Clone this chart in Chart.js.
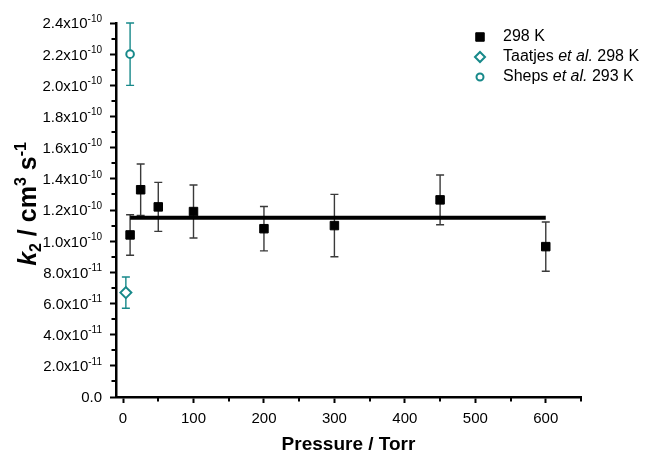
<!DOCTYPE html>
<html>
<head>
<meta charset="utf-8">
<script src="https://cdn.jsdelivr.net/npm/chart.js@4/dist/chart.umd.min.js"></script>
<style>
html,body{margin:0;padding:0;background:#fff;}
#wrap{width:649px;height:454px;}
</style>
</head>
<body>
<div id="wrap"><canvas id="c" width="649" height="454"></canvas></div>
<script>
// ---- data ----
const pressure298 = [10, 25, 50, 100, 200, 300, 450, 600];
const k298 = [1.04e-10, 1.33e-10, 1.22e-10, 1.19e-10, 1.08e-10, 1.10e-10, 1.265e-10, 0.965e-10];
const k298Err = [0.13e-10, 0.165e-10, 0.157e-10, 0.17e-10, 0.142e-10, 0.20e-10, 0.16e-10, 0.158e-10];
const taatjesPressure = [4];
const taatjesK = [6.7e-11];
const taatjesErr = [1.0e-11];
const shepsPressure = [10];
const shepsK = [2.2e-10];
const shepsErr = [0.2e-10];
const fitPressure = [10, 600];
const fitK = [1.15e-10, 1.15e-10];
const seriesLabels = ['298 K', 'Taatjes et al. 298 K', 'Sheps et al. 293 K'];
const xTitle = 'Pressure / Torr';
const xMajorTicks = [0, 100, 200, 300, 400, 500, 600];
const xMinorTicks = [50, 150, 250, 350, 450, 550, 650];
const yMajorTicks = [0, 2.0e-11, 4.0e-11, 6.0e-11, 8.0e-11, 1.0e-10, 1.2e-10, 1.4e-10, 1.6e-10, 1.8e-10, 2.0e-10, 2.2e-10, 2.4e-10];
const yMinorTicks = [1e-11, 3e-11, 5e-11, 7e-11, 9e-11, 1.1e-10, 1.3e-10, 1.5e-10, 1.7e-10, 1.9e-10, 2.1e-10, 2.3e-10];

const FONT = '"Liberation Sans", Arial, Helvetica, sans-serif';
const TEAL = '#17898a';

function pts(xs, ys) { return xs.map((x, i) => ({x: x, y: ys[i]})); }

// error bars drawn beneath markers
const errorBarPlugin = {
  id: 'errorBars',
  beforeDatasetsDraw(chart) {
    const ctx = chart.ctx;
    const xs = chart.scales.x, ys = chart.scales.y;
    chart.data.datasets.forEach((ds) => {
      if (!ds.errors) return;
      ctx.save();
      ctx.strokeStyle = ds.errColor;
      ctx.lineWidth = 1.4;
      ds.data.forEach((p, i) => {
        const e = ds.errors[i];
        const px = xs.getPixelForValue(p.x);
        const yt = ys.getPixelForValue(p.y + e);
        const yb = ys.getPixelForValue(p.y - e);
        ctx.beginPath();
        ctx.moveTo(px, yt); ctx.lineTo(px, yb);
        ctx.moveTo(px - 4, yt); ctx.lineTo(px + 4, yt);
        ctx.moveTo(px - 4, yb); ctx.lineTo(px + 4, yb);
        ctx.stroke();
      });
      ctx.restore();
    });
  }
};

function drawMarker(ctx, style, x, y, r, fill, stroke, lw) {
  ctx.save();
  ctx.beginPath();
  if (style === 'rect') {
    const s = r * Math.SQRT1_2;
    ctx.rect(x - s, y - s, 2 * s, 2 * s);
  } else if (style === 'rectRot') {
    ctx.moveTo(x - r, y); ctx.lineTo(x, y - r); ctx.lineTo(x + r, y); ctx.lineTo(x, y + r); ctx.closePath();
  } else {
    ctx.arc(x, y, r, 0, Math.PI * 2);
  }
  ctx.fillStyle = fill; ctx.fill();
  ctx.lineWidth = lw; ctx.strokeStyle = stroke; ctx.stroke();
  ctx.restore();
}

const decorPlugin = {
  id: 'decor',
  afterDraw(chart) {
    const ctx = chart.ctx;
    const xs = chart.scales.x, ys = chart.scales.y;
    const ca = chart.chartArea;
    ctx.save();
    // minor ticks
    ctx.strokeStyle = '#000';
    ctx.lineWidth = 2;
    xMinorTicks.forEach(v => {
      const px = Math.round(xs.getPixelForValue(v));
      ctx.beginPath(); ctx.moveTo(px, ca.bottom); ctx.lineTo(px, ca.bottom + 4.5); ctx.stroke();
    });
    yMinorTicks.forEach(v => {
      const py = Math.round(ys.getPixelForValue(v));
      ctx.beginPath(); ctx.moveTo(ca.left, py); ctx.lineTo(ca.left - 4.5, py); ctx.stroke();
    });
    // y tick labels with superscripts
    ctx.fillStyle = '#000';
    ctx.textBaseline = 'alphabetic';
    ctx.textAlign = 'left';
    const rightEdge = 102;
    yMajorTicks.forEach(v => {
      const py = ys.getPixelForValue(v);
      const base = py + 5.4;
      let main, sup = '';
      if (v === 0) { main = '0.0'; }
      else {
        const s = v.toExponential(1).split('e');
        main = s[0] + 'x10';
        sup = String(parseInt(s[1], 10));
      }
      ctx.font = '15px ' + FONT;
      const wm = ctx.measureText(main).width;
      ctx.font = '10px ' + FONT;
      const ws = sup ? ctx.measureText(sup).width : 0;
      const x0 = rightEdge - wm - ws;
      ctx.font = '15px ' + FONT;
      ctx.fillText(main, x0, base);
      if (sup) { ctx.font = '10px ' + FONT; ctx.fillText(sup, x0 + wm, base - 6.7); }
    });
    // y axis title: k2 / cm3 s-1
    const parts = [
      {t: 'k', f: 'italic bold 25px ' + FONT, dy: 0},
      {t: '2', f: 'bold 16px ' + FONT, dy: 5},
      {t: ' / cm', f: 'bold 25px ' + FONT, dy: 0},
      {t: '3', f: 'bold 16px ' + FONT, dy: -10},
      {t: ' s', f: 'bold 25px ' + FONT, dy: 0},
      {t: '-1', f: 'bold 16px ' + FONT, dy: -10}
    ];
    let tw = 0;
    parts.forEach(p => { ctx.font = p.f; p.w = ctx.measureText(p.t).width; tw += p.w; });
    ctx.translate(36, 204);
    ctx.rotate(-Math.PI / 2);
    let cx = -tw / 2;
    parts.forEach(p => { ctx.font = p.f; ctx.fillText(p.t, cx, p.dy); cx += p.w; });
    ctx.setTransform(1, 0, 0, 1, 0, 0);
    // legend
    const legendX = 480, textX = 503, legendY0 = 37, legendDy = 20;
    const sets = chart.data.datasets.filter(d => d.inLegend);
    sets.forEach((d, i) => {
      const y = legendY0 + i * legendDy;
      drawMarker(ctx, d.pointStyle, legendX, y, d.legendRadius, d.backgroundColor, d.borderColor, d.borderWidth);
      ctx.fillStyle = '#000';
      ctx.textBaseline = 'middle';
      const label = d.label;
      const idx = label.indexOf('et al.');
      let segs;
      if (idx >= 0) {
        segs = [
          {t: label.slice(0, idx), f: '16px ' + FONT},
          {t: 'et al.', f: 'italic 16px ' + FONT},
          {t: label.slice(idx + 6), f: '16px ' + FONT}
        ];
      } else segs = [{t: label, f: '16px ' + FONT}];
      let x = textX;
      segs.forEach(s => { ctx.font = s.f; ctx.fillText(s.t, x, y); x += ctx.measureText(s.t).width; });
    });
    ctx.restore();
  }
};

const axisCommon = {
  grid: {display: true, drawOnChartArea: false, drawTicks: true, tickLength: 6, tickWidth: 2, tickColor: '#000'},
  border: {display: true, color: '#000', width: 2.5}
};

new Chart(document.getElementById('c'), {
  type: 'scatter',
  data: {
    datasets: [
      {
        label: seriesLabels[0], inLegend: true,
        data: pts(pressure298, k298), errors: k298Err, errColor: '#3a3a3a',
        pointStyle: 'rect', pointRadius: 6, legendRadius: 6,
        backgroundColor: '#000', borderColor: '#000', borderWidth: 1, order: 1
      },
      {
        label: seriesLabels[1], inLegend: true,
        data: pts(taatjesPressure, taatjesK), errors: taatjesErr, errColor: TEAL,
        pointStyle: 'rectRot', pointRadius: 5.5, legendRadius: 5,
        backgroundColor: '#fff', borderColor: TEAL, borderWidth: 2, order: 1
      },
      {
        label: seriesLabels[2], inLegend: true,
        data: pts(shepsPressure, shepsK), errors: shepsErr, errColor: TEAL,
        pointStyle: 'circle', pointRadius: 3.8, legendRadius: 3.5,
        backgroundColor: '#fff', borderColor: TEAL, borderWidth: 2, order: 1
      },
      {
        label: 'fit', inLegend: false, type: 'line',
        data: pts(fitPressure, fitK), showLine: true,
        borderColor: '#000', borderWidth: 4, pointRadius: 0, fill: false, order: 2
      }
    ]
  },
  options: {
    responsive: false,
    animation: false,
    devicePixelRatio: 1,
    events: [],
    layout: {padding: {left: 0, right: 68, top: 23, bottom: 0}},
    plugins: {legend: {display: false}, tooltip: {enabled: false}},
    scales: {
      x: Object.assign({}, axisCommon, {
        type: 'linear', position: 'bottom', min: -10, max: 650,
        afterBuildTicks: s => { s.ticks = xMajorTicks.map(v => ({value: v})); },
        afterFit: s => { s.height = 57; },
        ticks: {display: true, autoSkip: false, maxRotation: 0, padding: 7, color: '#000', font: {family: FONT, size: 15}},
        title: {display: true, text: xTitle, color: '#000', font: {family: FONT, size: 19, weight: 'bold', lineHeight: 1.0}, padding: {top: 0, bottom: 0}}
      }),
      y: Object.assign({}, axisCommon, {
        type: 'linear', position: 'left', min: 0, max: 2.4e-10,
        afterBuildTicks: s => { s.ticks = yMajorTicks.map(v => ({value: v})); },
        afterFit: s => { s.width = 116; },
        ticks: {display: false}
      })
    }
  },
  plugins: [errorBarPlugin, decorPlugin]
});
</script>
</body>
</html>
